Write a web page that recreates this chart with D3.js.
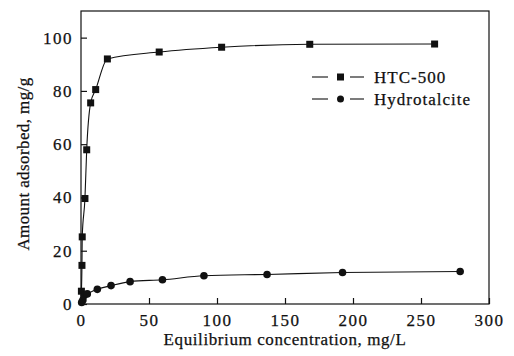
<!DOCTYPE html>
<html>
<head>
<meta charset="utf-8">
<script src="https://cdn.jsdelivr.net/npm/d3@7"></script>
<style>
  body { margin: 0; background: #fff; }
  svg text { font-family: "Liberation Serif", "DejaVu Serif", serif; fill: #111; stroke: #111; stroke-width: 0.25px; }
</style>
</head>
<body>
<div id="chart"></div>
<script>
// values
var htcX = [0.3, 0.7, 0.9, 2.9, 4.2, 7.1, 10.8, 19.4, 57.5, 103.4, 168.2, 260];
var htcY = [4.8, 14.5, 25.2, 39.6, 57.9, 75.5, 80.5, 92.0, 94.6, 96.4, 97.5, 97.6];
var hydX = [0.5, 1.4, 2.3, 4.6, 12, 22.1, 36.1, 59.9, 90.4, 136.8, 192.3, 278.8];
var hydY = [0.6, 1.5, 3.2, 3.8, 5.5, 6.9, 8.4, 9.1, 10.6, 11.1, 11.8, 12.2];
var xTicks = [0, 50, 100, 150, 200, 250, 300];
var yTicks = [0, 20, 40, 60, 80, 100];
var seriesNames = ["HTC-500", "Hydrotalcite"];

var zip = function(xs, ys) {
    return xs.map(function(v, i) { return {x: v, y: ys[i]}; });
};
var htc = zip(htcX, htcY);
var hyd = zip(hydX, hydY);

var margins = {top: 11, right: 25, bottom: 52, left: 81};
var W = 514, H = 356;
var w = W - margins.left - margins.right;
var h = H - margins.top - margins.bottom;

var xScale = d3.scaleLinear().domain([0, 300]).range([0, w]);
var yScale = d3.scaleLinear().domain([0, 110]).range([h, 0]);

var svg = d3.select("#chart").append("svg")
            .attr("width", W).attr("height", H)
            .append("g")
            .attr("transform", "translate(" + margins.left + "," + margins.top + ")");

// frame
svg.append("rect")
   .attr("width", w).attr("height", h)
   .attr("fill", "none").attr("stroke", "#111").attr("stroke-width", 1.2);

// ticks point inward
var xAxis = d3.axisBottom(xScale).tickValues(xTicks).tickSizeInner(-6).tickSizeOuter(0).tickPadding(10);
var yAxis = d3.axisLeft(yScale).tickValues(yTicks).tickSizeInner(-6).tickSizeOuter(0).tickPadding(8);

var gx = svg.append("g").attr("transform", "translate(0," + h + ")").call(xAxis);
var gy = svg.append("g").call(yAxis);
[gx, gy].forEach(function(g) {
    g.select(".domain").remove();
    g.selectAll("line").attr("stroke", "#111").attr("stroke-width", 1.2);
    g.selectAll("text")
     .style("font-family", "Liberation Serif, serif")
     .style("font-size", "17px")
     .style("letter-spacing", "1.5px")
     .attr("fill", "#111");
});

svg.append("text")
   .attr("x", w / 2).attr("y", h + 41)
   .attr("text-anchor", "middle")
   .style("font-size", "17px")
   .style("letter-spacing", "0.6px")
   .text("Equilibrium concentration, mg/L");

svg.append("text")
   .attr("transform", "rotate(-90)")
   .attr("x", -(164 - margins.top)).attr("y", -52)
   .attr("text-anchor", "middle")
   .style("font-size", "17px")
   .style("letter-spacing", "0.4px")
   .text("Amount adsorbed, mg/g");

var line = d3.line()
             .x(function(d) { return xScale(d.x); })
             .y(function(d) { return yScale(d.y); })
             .curve(d3.curveMonotoneX);

[htc, hyd].forEach(function(data) {
    svg.append("path").datum(data)
       .attr("d", line)
       .attr("fill", "none").attr("stroke", "#111").attr("stroke-width", 1.1);
});

var sq = 7;
svg.append("g").selectAll("rect").data(htc).enter().append("rect")
   .attr("x", function(d) { return xScale(d.x) - sq / 2; })
   .attr("y", function(d) { return yScale(d.y) - sq / 2; })
   .attr("width", sq).attr("height", sq)
   .attr("fill", "#111");

svg.append("g").selectAll("circle").data(hyd).enter().append("circle")
   .attr("cx", function(d) { return xScale(d.x); })
   .attr("cy", function(d) { return yScale(d.y); })
   .attr("r", 3.8)
   .attr("fill", "#111");

// legend
var legend = svg.append("g").attr("transform", "translate(" + (312 - margins.left) + "," + (77 - margins.top) + ")");
seriesNames.forEach(function(name, i) {
    var g = legend.append("g").attr("transform", "translate(0," + (i * 22) + ")");
    g.append("line").attr("x1", 0).attr("x2", 16).attr("stroke", "#111").attr("stroke-width", 1.1);
    g.append("line").attr("x1", 38).attr("x2", 52).attr("stroke", "#111").attr("stroke-width", 1.1);
    if (i === 0) {
        g.append("rect").attr("x", 25).attr("y", -3.5).attr("width", 7).attr("height", 7).attr("fill", "#111");
    } else {
        g.append("circle").attr("cx", 28.5).attr("cy", 0).attr("r", 3.5).attr("fill", "#111");
    }
    g.append("text").attr("x", 62).attr("y", 6)
     .style("font-size", "17px").style("letter-spacing", "1px")
     .text(name);
});
</script>
</body>
</html>
